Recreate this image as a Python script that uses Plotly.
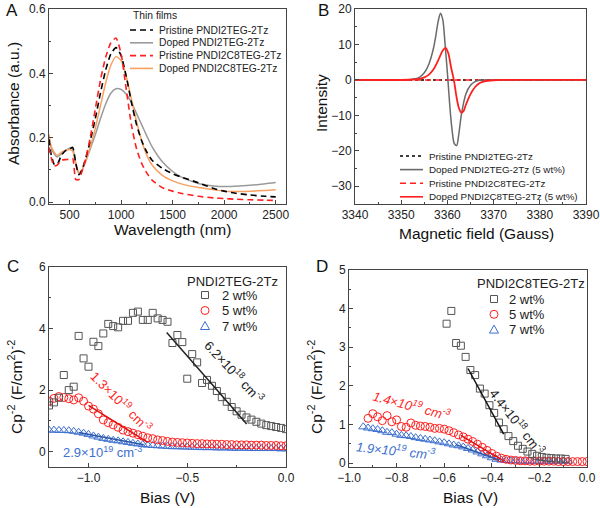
import plotly.graph_objects as go

FONT = "Arial, Liberation Sans, sans-serif"
W, H = 600, 508

def px(x):
    return x / W

def py(y):
    return 1 - y / H

# ---------------- Panel A data ----------------
wl = [300, 320, 350, 380, 420, 460, 500, 530, 560, 590, 620, 660, 700, 750, 800, 850, 900, 950,
      1000, 1050, 1100, 1150, 1200, 1250, 1300, 1400, 1500, 1600, 1750, 1900, 2000, 2100, 2250, 2400, 2500]
abs_pristine_teg = [0.195, 0.15, 0.118, 0.117, 0.145, 0.16, 0.165, 0.17, 0.12, 0.085, 0.1, 0.14, 0.19, 0.26,
                    0.34, 0.41, 0.46, 0.48, 0.455, 0.39, 0.31, 0.24, 0.19, 0.155, 0.13, 0.105, 0.088, 0.076,
                    0.06, 0.042, 0.034, 0.028, 0.022, 0.018, 0.016]
abs_doped_teg = [0.2, 0.17, 0.15, 0.14, 0.15, 0.16, 0.168, 0.165, 0.12, 0.088, 0.098, 0.13, 0.165, 0.21,
                 0.26, 0.305, 0.338, 0.352, 0.35, 0.335, 0.31, 0.275, 0.24, 0.205, 0.172, 0.125, 0.095,
                 0.075, 0.058, 0.05, 0.048, 0.049, 0.052, 0.057, 0.061]
abs_pristine_c8 = [0.17, 0.14, 0.112, 0.115, 0.13, 0.132, 0.133, 0.135, 0.07, 0.07, 0.095, 0.14, 0.2, 0.29,
                   0.38, 0.45, 0.495, 0.51, 0.46, 0.35, 0.24, 0.165, 0.12, 0.09, 0.068, 0.045, 0.034, 0.026,
                   0.018, 0.013, 0.011, 0.009, 0.007, 0.006, 0.005]
abs_doped_c8 = [0.21, 0.175, 0.155, 0.145, 0.155, 0.16, 0.163, 0.158, 0.12, 0.092, 0.1, 0.13, 0.17, 0.23,
                0.3, 0.37, 0.425, 0.452, 0.44, 0.39, 0.32, 0.25, 0.19, 0.145, 0.115, 0.083, 0.066, 0.055,
                0.045, 0.038, 0.034, 0.033, 0.034, 0.036, 0.038]

# ---------------- Panel B data ----------------
field_flat = [3340, 3390]
int_flat = [0, 0]
field_teg = [3340, 3350, 3352, 3353, 3354, 3355, 3356, 3357, 3357.5, 3358, 3358.5, 3359, 3359.5, 3360,
             3360.5, 3361, 3361.5, 3362, 3362.5, 3363, 3364, 3365, 3366, 3367, 3368, 3370, 3390]
int_teg = [0, 0, 0.1, 0.3, 0.8, 2, 4.5, 9, 12.5, 16.5, 18.8, 17, 10, 2, -7, -14, -18, -18.5, -15, -10,
           -4, -1.5, -0.5, -0.1, 0, 0, 0]
field_c8 = [3340, 3352, 3354, 3355, 3356, 3357, 3358, 3359, 3359.6, 3360.2, 3360.8, 3361.4, 3362, 3362.5,
            3363, 3363.5, 3364, 3365, 3366, 3367, 3368, 3370, 3372, 3390]
int_c8 = [0, 0.05, 0.3, 0.7, 1.5, 3, 5.5, 8.3, 9, 7.5, 3.5, 0, -5, -8, -9.2, -8.8, -7, -4, -2, -0.9,
          -0.4, -0.1, 0, 0]

# ---------------- Panel C data ----------------
bias_c = [-1.2, -1.175, -1.15, -1.125, -1.1, -1.075, -1.05, -1.025, -1.0, -0.975, -0.95, -0.925, -0.9,
          -0.875, -0.85, -0.825, -0.8, -0.775, -0.75, -0.725, -0.7, -0.675, -0.65, -0.625, -0.6, -0.575,
          -0.55, -0.525, -0.5, -0.475, -0.45, -0.425, -0.4, -0.375, -0.35, -0.325, -0.3, -0.275, -0.25,
          -0.225, -0.2, -0.175, -0.15, -0.125, -0.1, -0.075, -0.05, -0.025, 0.0]
c_2wt = [1.5, 1.6, 1.75, 2.49, 2.0, 2.11, 3.76, 3.03, 2.76, 3.57, 3.43, 3.84, 4.15, 4.08, 4.04, 4.25,
         4.25, 4.51, 4.55, 4.28, 4.28, 4.51, 4.33, 4.28, 4.22, 3.53, 3.79, 3.56, 2.37, 3.17, 2.9, 2.23,
         2.33, 2.14, 1.97, 1.77, 1.62, 1.45, 1.31, 1.2, 1.11, 1.04, 0.97, 0.91, 0.86, 0.83, 0.8, 0.77, 0.73]
c_5wt = [1.64, 1.73, 1.79, 1.76, 1.72, 1.68, 1.75, 1.64, 1.48, 1.38, 1.23, 1.03, 0.94, 0.87, 0.79, 0.7,
         0.65, 0.6, 0.55, 0.5, 0.45, 0.42, 0.38, 0.36, 0.33, 0.31, 0.3, 0.29, 0.28, 0.27, 0.26, 0.26, 0.25,
         0.25, 0.24, 0.24, 0.23, 0.23, 0.22, 0.22, 0.22, 0.21, 0.21, 0.21, 0.2, 0.2, 0.2, 0.19, 0.19]
c_7wt = [0.7, 0.7, 0.69, 0.69, 0.68, 0.66, 0.63, 0.6, 0.56, 0.51, 0.47, 0.43, 0.4, 0.37, 0.35, 0.32,
         0.3, 0.27, 0.25, 0.23, 0.21, 0.2, 0.19, 0.18, 0.17, 0.16, 0.16, 0.15, 0.15, 0.14, 0.14, 0.13,
         0.13, 0.13, 0.12, 0.12, 0.12, 0.11, 0.11, 0.11, 0.11, 0.1, 0.1, 0.1, 0.1, 0.1, 0.1, 0.09, 0.09]
fit_c_2wt_x = [-0.604, -0.199]
fit_c_2wt_y = [3.87, 0.9]
fit_c_5wt_x = [-1.0, -0.7]
fit_c_5wt_y = [1.5, 0.3]
fit_c_7wt_x = [-1.05, -0.72]
fit_c_7wt_y = [0.62, 0.22]

# ---------------- Panel D data ----------------
bias_d_2wt = [-0.59, -0.57, -0.55, -0.53, -0.51, -0.49, -0.47, -0.45, -0.43, -0.41, -0.39, -0.37, -0.35,
              -0.33, -0.31, -0.29, -0.27, -0.25, -0.23, -0.21, -0.19, -0.17, -0.15, -0.13, -0.11, -0.09]
d_2wt = [3.61, 3.94, 3.11, 3.04, 2.75, 2.41, 2.28, 1.93, 1.80, 1.50, 1.30, 1.05, 0.88, 0.70, 0.57, 0.45,
         0.37, 0.30, 0.24, 0.19, 0.16, 0.14, 0.13, 0.12, 0.12, 0.11]
bias_d = [-0.92, -0.9, -0.88, -0.86, -0.84, -0.82, -0.8, -0.78, -0.76, -0.74, -0.72, -0.7, -0.68, -0.66,
          -0.64, -0.62, -0.6, -0.58, -0.56, -0.54, -0.52, -0.5, -0.48, -0.46, -0.44, -0.42, -0.4, -0.38,
          -0.36, -0.34, -0.32, -0.3, -0.28, -0.26, -0.24, -0.22, -0.2, -0.18, -0.16, -0.14, -0.12, -0.1,
          -0.08, -0.06, -0.04, -0.02, 0.0]
d_5wt = [1.16, 1.28, 1.20, 1.10, 1.23, 1.07, 1.12, 0.95, 0.93, 1.04, 0.98, 0.96, 0.95, 0.93, 0.90, 0.90,
         0.88, 0.84, 0.79, 0.73, 0.68, 0.62, 0.56, 0.49, 0.41, 0.33, 0.25, 0.18, 0.13, 0.1, 0.08, 0.07,
         0.06, 0.06, 0.05, 0.05, 0.05, 0.05, 0.05, 0.05, 0.04, 0.04, 0.04, 0.04, 0.04, 0.04, 0.04]
bias_d_7wt = [-0.94, -0.92, -0.9, -0.88, -0.86, -0.84, -0.82, -0.8, -0.78, -0.76, -0.74, -0.72, -0.7,
              -0.68, -0.66, -0.64, -0.62, -0.6, -0.58, -0.56, -0.54, -0.52, -0.5, -0.48, -0.46, -0.44,
              -0.42, -0.4, -0.38, -0.36, -0.34, -0.32, -0.3, -0.28, -0.26, -0.24, -0.22, -0.2, -0.18,
              -0.16, -0.14, -0.12, -0.1, -0.08]
d_7wt = [0.94, 0.91, 0.89, 0.87, 0.84, 0.80, 0.79, 0.75, 0.72, 0.71, 0.69, 0.66, 0.64, 0.62, 0.60, 0.58,
         0.55, 0.53, 0.50, 0.47, 0.45, 0.42, 0.38, 0.34, 0.29, 0.24, 0.19, 0.14, 0.1, 0.08, 0.07, 0.06,
         0.06, 0.05, 0.05, 0.05, 0.05, 0.05, 0.05, 0.05, 0.05, 0.05, 0.05, 0.05]
fit_d_2wt_x = [-0.5, -0.35]
fit_d_2wt_y = [2.45, 0.75]
fit_d_5wt_x = [-0.53, -0.35]
fit_d_5wt_y = [0.72, 0.06]
fit_d_7wt_x = [-0.55, -0.37]
fit_d_7wt_y = [0.48, 0.08]

# ---------------- colours ----------------
C_BLACK = "#000000"
C_GRAY_A = "#9a9a9a"
C_RED = "#ff1f1f"
C_ORANGE = "#f7a062"
C_GRAY_B = "#6a6a6a"
C_SQ = "#555555"
C_BLUE = "#3d6fcf"

fig = go.Figure()

# Panel A
fig.add_trace(go.Scatter(x=wl, y=abs_doped_teg, mode="lines", line=dict(color=C_GRAY_A, width=1.5, shape="spline", smoothing=0.6),
                         xaxis="x", yaxis="y", name="Doped PNDI2TEG-2Tz"))
fig.add_trace(go.Scatter(x=wl, y=abs_doped_c8, mode="lines", line=dict(color=C_ORANGE, width=1.5, shape="spline", smoothing=0.6),
                         xaxis="x", yaxis="y", name="Doped PNDI2C8TEG-2Tz"))
fig.add_trace(go.Scatter(x=wl, y=abs_pristine_teg, mode="lines", line=dict(color=C_BLACK, width=1.6, dash="6px,4px", shape="spline", smoothing=0.6),
                         xaxis="x", yaxis="y", name="Pristine PNDI2TEG-2Tz"))
fig.add_trace(go.Scatter(x=wl, y=abs_pristine_c8, mode="lines", line=dict(color=C_RED, width=1.6, dash="6px,4px", shape="spline", smoothing=0.6),
                         xaxis="x", yaxis="y", name="Pristine PNDI2C8TEG-2Tz"))

# Panel B
fig.add_trace(go.Scatter(x=field_flat, y=int_flat, mode="lines", line=dict(color=C_BLACK, width=1.5, dash="dot"),
                         xaxis="x2", yaxis="y2", name="Pristine PNDI2TEG-2Tz"))
fig.add_trace(go.Scatter(x=field_flat, y=int_flat, mode="lines", line=dict(color=C_RED, width=1.5, dash="6px,4px"),
                         xaxis="x2", yaxis="y2", name="Pristine PNDI2C8TEG-2Tz"))
fig.add_trace(go.Scatter(x=field_teg, y=int_teg, mode="lines", line=dict(color=C_GRAY_B, width=1.5, shape="spline", smoothing=0.8),
                         xaxis="x2", yaxis="y2", name="Doped PNDI2TEG-2Tz (5 wt%)"))
fig.add_trace(go.Scatter(x=field_c8, y=int_c8, mode="lines", line=dict(color=C_RED, width=1.8, shape="spline", smoothing=0.8),
                         xaxis="x2", yaxis="y2", name="Doped PNDI2C8TEG-2Tz (5 wt%)"))

# Panel C
fig.add_trace(go.Scatter(x=bias_c, y=c_7wt, mode="markers", marker=dict(symbol="triangle-up-open", size=8, color=C_BLUE, line=dict(width=1)),
                         xaxis="x3", yaxis="y3", name="7 wt%"))
fig.add_trace(go.Scatter(x=bias_c, y=c_5wt, mode="markers", marker=dict(symbol="circle-open", size=8, color=C_RED, line=dict(width=1)),
                         xaxis="x3", yaxis="y3", name="5 wt%"))
fig.add_trace(go.Scatter(x=bias_c, y=c_2wt, mode="markers", marker=dict(symbol="square-open", size=7, color=C_SQ, line=dict(width=1)),
                         xaxis="x3", yaxis="y3", name="2 wt%"))
fig.add_trace(go.Scatter(x=fit_c_2wt_x, y=fit_c_2wt_y, mode="lines", line=dict(color="#222222", width=1.5), xaxis="x3", yaxis="y3"))
fig.add_trace(go.Scatter(x=fit_c_5wt_x, y=fit_c_5wt_y, mode="lines", line=dict(color="#e01010", width=1.5), xaxis="x3", yaxis="y3"))
fig.add_trace(go.Scatter(x=fit_c_7wt_x, y=fit_c_7wt_y, mode="lines", line=dict(color="#2a55a8", width=1.5), xaxis="x3", yaxis="y3"))

# Panel D
fig.add_trace(go.Scatter(x=bias_d_7wt, y=d_7wt, mode="markers", marker=dict(symbol="triangle-up-open", size=8, color=C_BLUE, line=dict(width=1)),
                         xaxis="x4", yaxis="y4", name="7 wt%"))
fig.add_trace(go.Scatter(x=bias_d, y=d_5wt, mode="markers", marker=dict(symbol="circle-open", size=8, color=C_RED, line=dict(width=1)),
                         xaxis="x4", yaxis="y4", name="5 wt%"))
fig.add_trace(go.Scatter(x=bias_d_2wt, y=d_2wt, mode="markers", marker=dict(symbol="square-open", size=7, color=C_SQ, line=dict(width=1)),
                         xaxis="x4", yaxis="y4", name="2 wt%"))
fig.add_trace(go.Scatter(x=fit_d_2wt_x, y=fit_d_2wt_y, mode="lines", line=dict(color="#111111", width=1.5), xaxis="x4", yaxis="y4"))
fig.add_trace(go.Scatter(x=fit_d_5wt_x, y=fit_d_5wt_y, mode="lines", line=dict(color="#e01010", width=1.5), xaxis="x4", yaxis="y4"))
fig.add_trace(go.Scatter(x=fit_d_7wt_x, y=fit_d_7wt_y, mode="lines", line=dict(color="#2a55a8", width=1.5), xaxis="x4", yaxis="y4"))

TICKFONT = dict(family=FONT, size=12, color="#222222")

def axis(domain, rng, dtick, minor_dtick, anchor, tick0=None):
    d = dict(domain=domain, range=rng, dtick=dtick, anchor=anchor, showgrid=False, zeroline=False,
             automargin=False,
             showline=True, mirror=True, linecolor="#444444", linewidth=1,
             ticks="inside", ticklen=4, tickwidth=1, tickcolor="#444444", tickfont=TICKFONT,
             minor=dict(dtick=minor_dtick, ticks="inside", ticklen=2, tickcolor="#444444", showgrid=False))
    if tick0 is not None:
        d["tick0"] = tick0
    return d

layout = dict(
    width=W, height=H, margin=dict(l=0, r=0, t=0, b=0, autoexpand=False),
    paper_bgcolor="white", plot_bgcolor="white", showlegend=False,
    font=dict(family=FONT, size=12, color="#222222"),
    xaxis=axis([px(49), px(286)], [300, 2600], 500, 250, "y", tick0=0),
    yaxis=axis([py(204), py(9)], [-0.006, 0.6], 0.2, 0.1, "x", tick0=0),
    xaxis2=axis([px(355), px(586)], [3340, 3390], 10, 5, "y2"),
    yaxis2=axis([py(204), py(9)], [-35, 20], 10, 5, "x2", tick0=0),
    xaxis3=axis([px(49), px(286)], [-1.2, 0], 0.5, 0.25, "y3", tick0=0),
    yaxis3=axis([py(467), py(267)], [-0.5, 6], 2, 1, "x3", tick0=0),
    xaxis4=axis([px(349), px(587)], [-1.0, 0], 0.2, 0.1, "y4", tick0=0),
    yaxis4=axis([py(467), py(270)], [-0.1, 5], 1, 0.5, "x4", tick0=0),
)
layout["xaxis"]["tickformat"] = "d"
layout["xaxis2"]["tickformat"] = "d"
layout["yaxis"]["tickformat"] = ".1f"
layout["xaxis3"]["tickformat"] = ".1f"
layout["xaxis4"]["tickformat"] = ".1f"
fig.update_layout(**layout)

annotations = []
shapes = []

def text(x, y, s, size=12, color="#222222", anchor="left", angle=0, italic=False):
    if italic:
        s = "<i>" + s + "</i>"
    annotations.append(dict(x=px(x), y=py(y), xref="paper", yref="paper", text=s, showarrow=False,
                            xanchor=anchor, yanchor="middle", textangle=angle,
                            font=dict(family=FONT, size=size, color=color)))

def legline(x0, x1, y, color, dash="solid", width=1.5):
    shapes.append(dict(type="line", xref="paper", yref="paper", x0=px(x0), x1=px(x1), y0=py(y), y1=py(y),
                       line=dict(color=color, width=width, dash=dash)))

# panel letters
text(4, 11, "A", 17, "#111111")
text(316, 11, "B", 17, "#111111")
text(5, 266, "C", 17, "#111111")
text(314, 266, "D", 17, "#111111")

# axis titles
TS = 15.5
text(14, 104, "Absorbance (a.u.)", TS, "#111111", "center", -90)
text(172, 229, "Wavelength (nm)", TS, "#111111", "center")
text(322, 103, "Intensity", TS, "#111111", "center", -90)
text(476, 233, "Magnetic field (Gauss)", TS, "#111111", "center")
text(15, 387, "Cp<sup>-2</sup> (F/cm<sup>2</sup>)<sup>-2</sup>", TS, "#111111", "center", -90)
text(167, 497, "Bias (V)", TS, "#111111", "center")
text(315, 387, "Cp<sup>-2</sup> (F/cm<sup>2</sup>)<sup>-2</sup>", TS, "#111111", "center", -90)
text(470, 497, "Bias (V)", TS, "#111111", "center")

# legend A
LS = 10.3
text(131, 16, "Thin films", LS)
legA = [("Pristine PNDI2TEG-2Tz", C_BLACK, "6px,4px"), ("Doped PNDI2TEG-2Tz", C_GRAY_A, "solid"),
        ("Pristine PNDI2C8TEG-2Tz", C_RED, "6px,4px"), ("Doped PNDI2C8TEG-2Tz", C_ORANGE, "solid")]
for i, (lab, col, dsh) in enumerate(legA):
    yy = 30 + i * 12.8
    legline(130, 153, yy, col, dsh, 1.6)
    text(157, yy, lab, LS)

# legend B
LSB = 9.8
legB = [("Pristine PNDI2TEG-2Tz", C_BLACK, "dot"), ("Doped PNDI2TEG-2Tz (5 wt%)", C_GRAY_B, "solid"),
        ("Pristine PNDI2C8TEG-2Tz", C_RED, "6px,4px"), ("Doped PNDI2C8TEG-2Tz (5 wt%)", C_RED, "solid")]
for i, (lab, col, dsh) in enumerate(legB):
    yy = 156 + i * 13.6
    legline(400, 423, yy, col, dsh, 1.6)
    text(427, yy, lab, LSB)

# legends C and D
def marker_shape(kind, x, y, color):
    base = dict(xref="paper", yref="paper", xsizemode="pixel", ysizemode="pixel",
                xanchor=px(x), yanchor=py(y), line=dict(color=color, width=1))
    if kind == "square":
        base.update(type="rect", x0=-3.5, x1=3.5, y0=-3.5, y1=3.5)
    elif kind == "circle":
        base.update(type="circle", x0=-4, x1=4, y0=-4, y1=4)
    else:
        base.update(type="path", path="M -4.5,-3.5 L 4.5,-3.5 L 0,4.5 Z")
    shapes.append(base)

LS2 = 13
text(233, 281, "PNDI2TEG-2Tz", LS2, anchor="center")
for i, (kind, col, lab) in enumerate([("square", C_SQ, "2 wt%"), ("circle", C_RED, "5 wt%"), ("tri", C_BLUE, "7 wt%")]):
    yy = 295 + i * 15.5
    marker_shape(kind, 205, yy, col)
    text(220, yy, lab, LS2)

text(531, 283, "PNDI2C8TEG-2Tz", LS2, anchor="center")
for i, (kind, col, lab) in enumerate([("square", C_SQ, "2 wt%"), ("circle", C_RED, "5 wt%"), ("tri", C_BLUE, "7 wt%")]):
    yy = 299 + i * 15.3
    marker_shape(kind, 494, yy, col)
    text(507, yy, lab, LS2)

# fit annotations
AS = 13
text(234, 371, "6.2×10<sup>18</sup> cm<sup>-3</sup>", AS, "#222222", "center", 47)
text(121, 401, "1.3×10<sup>19</sup> cm<sup>-3</sup>", AS, C_RED, "center", 45)
text(102, 452, "2.9×10<sup>19</sup> cm<sup>-3</sup>", AS, C_BLUE, "center", 0)
text(411, 405, "1.4×10<sup>19</sup> cm<sup>-3</sup>", AS, C_RED, "center", 15, italic=True)
text(517, 421, "4.4×10<sup>18</sup> cm<sup>-3</sup>", AS, "#222222", "center", 52)
text(395, 450, "1.9×10<sup>19</sup> cm<sup>-3</sup>", AS, C_BLUE, "center", 6, italic=True)

fig.update_layout(annotations=annotations, shapes=shapes)
fig.write_html("out.html", config={"displayModeBar": False},
               post_script="document.body.style.margin='0px';document.body.style.padding='0px';")
